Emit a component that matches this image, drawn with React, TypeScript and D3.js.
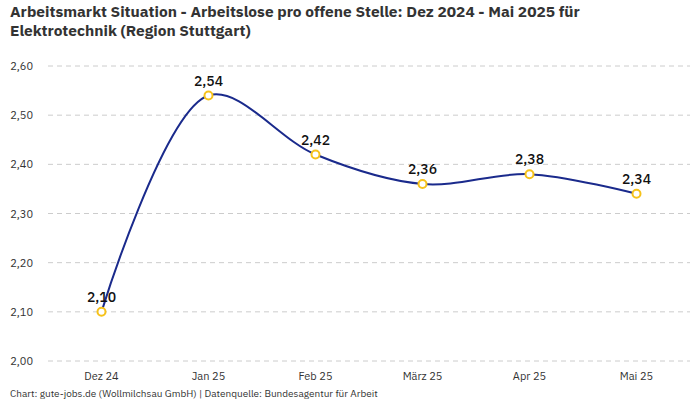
import React from "react";
import * as d3 from "d3";

const categories = ["Dez 24", "Jan 25", "Feb 25", "März 25", "Apr 25", "Mai 25"];
const values = [2.1, 2.54, 2.42, 2.36, 2.38, 2.34];
const yTicks = [2.0, 2.1, 2.2, 2.3, 2.4, 2.5, 2.6];
const titleLines = [
  "Arbeitsmarkt Situation - Arbeitslose pro offene Stelle: Dez 2024 - Mai 2025 für",
  "Elektrotechnik (Region Stuttgart)",
];
const credit = "Chart: gute-jobs.de (Wollmilchsau GmbH) | Datenquelle: Bundesagentur für Arbeit";

const W = 700;
const H = 400;
const font = "'IBM Plex Sans', Roboto, 'Noto Sans', sans-serif";
const fmt = (v: number) => v.toFixed(2).replace(".", ",");

export default function App() {
  const x = d3.scalePoint<string>().domain(categories).range([48, 690]).padding(0.5);
  const y = d3.scaleLinear().domain([2.0, 2.6]).range([361, 66]);
  const pts = categories.map((c, i) => [x(c) as number, y(values[i])] as [number, number]);
  const line = d3.line().curve(d3.curveCatmullRom.alpha(0.5))(pts) || "";

  return (
    <svg width={W} height={H} style={{ position: "absolute", left: 0, top: 0, fontFamily: font }}>
      <rect width={W} height={H} fill="#fff" />
      {titleLines.map((t, i) => (
        <text key={i} x={10} y={17 + i * 19} fontSize={15.5} fontWeight={700} fill="#333">
          {t}
        </text>
      ))}
      {yTicks.map((t) => (
        <g key={t}>
          <line x1={48} x2={690} y1={y(t)} y2={y(t)} stroke="#cccccc" strokeDasharray="5,4" />
          <text x={33} y={y(t) + 4} textAnchor="end" fontSize={11} fill="#333">
            {fmt(t)}
          </text>
        </g>
      ))}
      {categories.map((c) => (
        <text key={c} x={x(c)} y={380} textAnchor="middle" fontSize={11} fill="#333">
          {c}
        </text>
      ))}
      <path d={line} fill="none" stroke="#1a2a8c" strokeWidth={2} />
      {pts.map((p, i) => (
        <g key={i}>
          <circle cx={p[0]} cy={p[1]} r={4} fill="#fff" stroke="#f6c21a" strokeWidth={2} />
          <text x={p[0]} y={p[1] - 10} textAnchor="middle" fontSize={14} fontWeight={500} fill="#111">
            {fmt(values[i])}
          </text>
        </g>
      ))}
      <text x={10} y={397} fontSize={10} fill="#333">
        {credit}
      </text>
    </svg>
  );
}
